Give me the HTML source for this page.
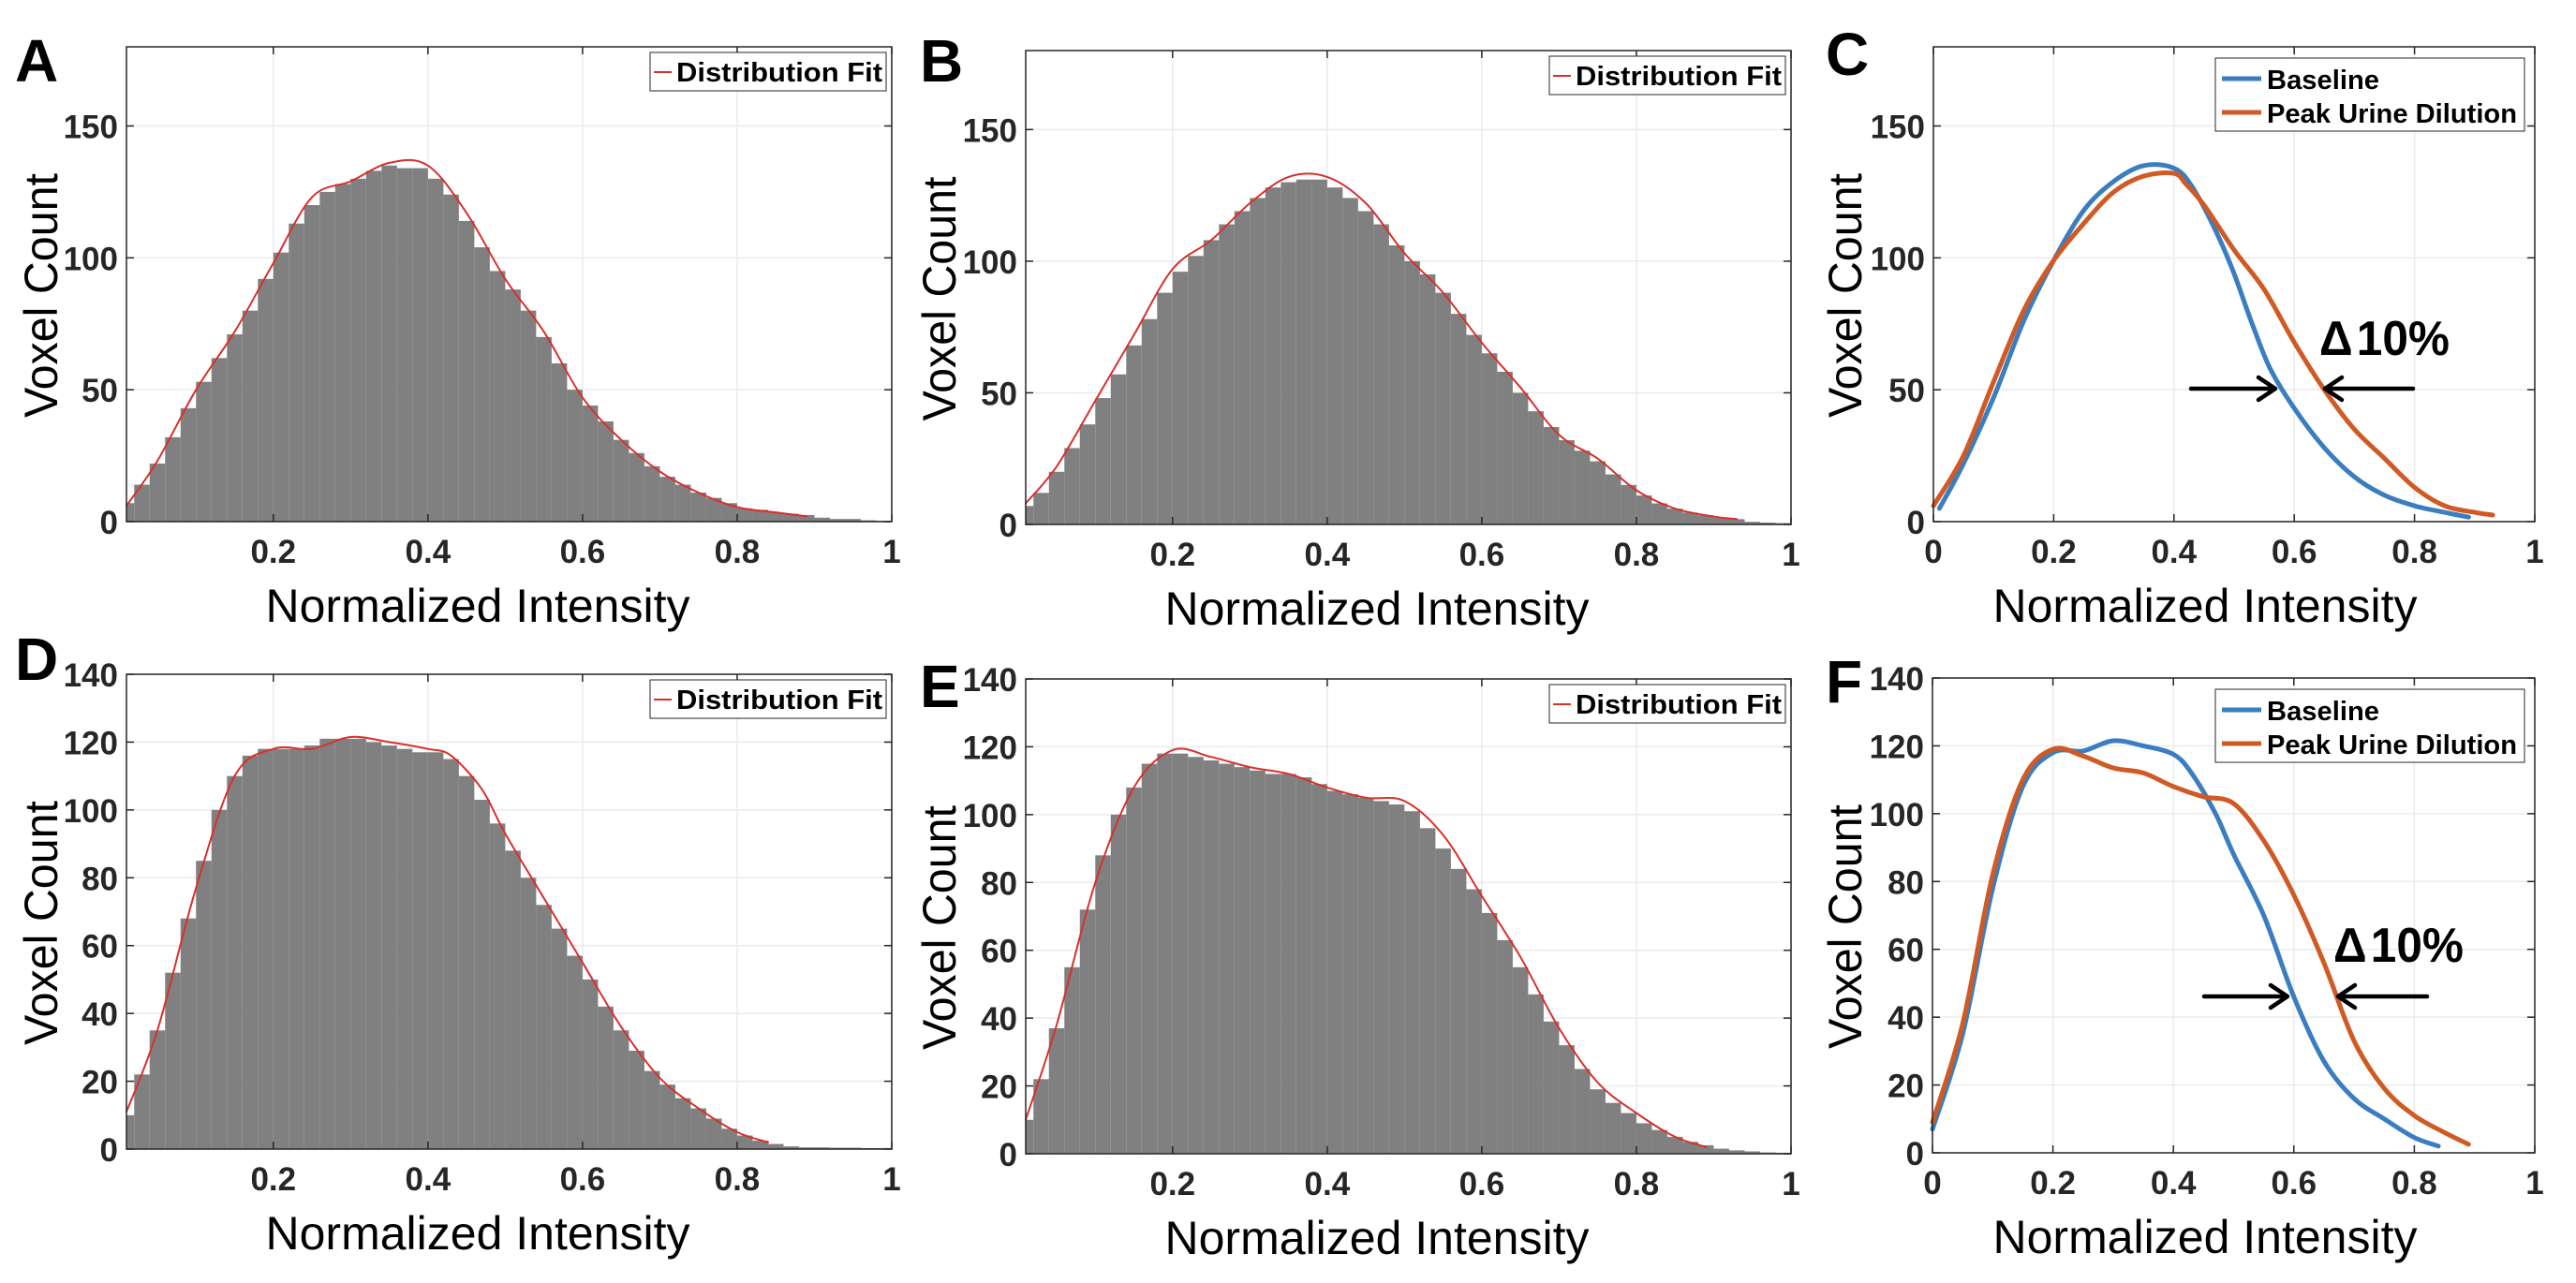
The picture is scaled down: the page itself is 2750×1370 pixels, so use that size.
<!DOCTYPE html>
<html><head><meta charset="utf-8"><title>Voxel intensity histograms</title>
<style>
html,body{margin:0;padding:0;background:#fff;}
svg{display:block;}
text{font-family:"Liberation Sans",Arial,sans-serif;}
</style></head>
<body>
<svg id="fig" xmlns="http://www.w3.org/2000/svg" width="2750" height="1370" viewBox="0 0 2750 1370"></svg>
<script>
// ---------- DATA ----------
const histCenters = [0.01,0.03,0.05,0.07,0.09,0.11,0.13,0.15,0.17,0.19,0.21,0.23,0.25,0.27,0.29,0.31,0.33,0.35,0.37,0.39,0.41,0.43,0.45,0.47,0.49,0.51,0.53,0.55,0.57,0.59,0.61,0.63,0.65,0.67,0.69,0.71,0.73,0.75,0.77,0.79,0.81,0.83,0.85,0.87,0.89,0.91,0.93,0.95,0.97,0.99];
const histA = [7,14,22,32,43,53,62,71,80,92,102,113,120,125,128,130,133,135,134,134,130,124,114,104,95,88,80,70,60,50,44,38,31,26,21,17,14,11,9,7,5,4.5,3.5,3,2.5,1.5,1,1,0.5,0.3];
const histB = [7,12,20,29,38,48,57,68,78,88,96,102,108,114,119,124,128,130,131,131,128,124,119,114,106,100,95,88,80,72,65,58,50,43,37,32,28,24,19,15,11,8,6,4.5,3.5,2.5,2,1,0.7,0.5];
const histD = [10,22,35,52,68,85,100,110,116,118,118,118,119,121,121,121,120,119,118,117,117,115,110,103,96,88,80,72,65,57,50,42,35,29,23,19,15,12,9,6,4,2.5,1.5,0.8,0.5,0.5,0.4,0.4,0.3,0.3];
const histE = [10,22,37,55,72,88,100,108,115,118,118,117,116,115,114,113,112,112,111,109,107,106,105,104,103,101,96,90,84,78,71,63,55,47,39,32,25,19,15,12,9,7,5,3.5,2.5,1.5,1,0.7,0.4,0.3];

const fitAx = [0.01,0.05,0.1,0.15,0.2,0.25,0.3,0.35,0.4,0.45,0.5,0.55,0.6,0.65,0.7,0.75,0.8,0.85,0.89];
const fitAy = [6,23,50,72,98,123,129,136,135,117,92,72,47,31,19,11,5.5,3.5,2];
const fitBx = [0.01,0.05,0.1,0.15,0.2,0.25,0.3,0.35,0.4,0.45,0.5,0.55,0.6,0.65,0.7,0.75,0.8,0.85,0.9,0.93];
const fitBy = [8,22,47,72,97,108,122,132,132,122,103,88,69,52,34,25,13,6,3,2];
const fitDx = [0.01,0.05,0.1,0.15,0.2,0.25,0.3,0.35,0.4,0.43,0.47,0.5,0.55,0.6,0.65,0.7,0.75,0.8,0.84];
const fitDy = [11,35,77,110,118,118,121.5,120,118,116,106,93,74,55,36,21,12,5,2];
const fitEx = [0.01,0.05,0.1,0.15,0.2,0.25,0.3,0.35,0.4,0.45,0.5,0.55,0.6,0.65,0.7,0.75,0.8,0.85,0.89];
const fitEy = [10,38,80,108,119,117,114,112,108,105,104,94,76,58,37,21,12,5,2];

const cBaseX = [0.01,0.05,0.1,0.15,0.2,0.25,0.3,0.35,0.4,0.43,0.47,0.5,0.53,0.56,0.6,0.65,0.7,0.75,0.8,0.85,0.89];
const cBaseY = [5,22,47,76,99,118,129,135,134,127,110,94,75,58,43,28,17,10,6,3.5,1.7];
const cPeakX = [0.0,0.05,0.1,0.15,0.2,0.25,0.3,0.35,0.4,0.42,0.45,0.5,0.55,0.6,0.65,0.7,0.75,0.8,0.85,0.9,0.93];
const cPeakY = [6,25,53,80,99,113,125,131,132,128,120,103,88,68,50,35,24,13,6,3.5,2.5];
const fBaseX = [0.0,0.05,0.1,0.15,0.2,0.25,0.3,0.35,0.4,0.43,0.47,0.5,0.55,0.6,0.65,0.7,0.75,0.8,0.84];
const fBaseY = [7,35,78,108,118,118.5,121.5,120,117.5,112,100,88,70,46,27,16,10,4.5,2];
const fPeakX = [0.0,0.05,0.1,0.15,0.2,0.25,0.3,0.35,0.4,0.45,0.5,0.55,0.6,0.65,0.7,0.75,0.8,0.85,0.89];
const fPeakY = [9,38,82,110,119,117,113.5,112,108,105,103,92,76,56,33,19,11,6,2.5];

const topYTicks = [0,50,100,150];
const botYTicks = [0,20,40,60,80,100,120,140];
const histXTicks = [0.2,0.4,0.6,0.8,1];
const lineXTicks = [0,0.2,0.4,0.6,0.8,1];
const xTickLabels = {0:"0",0.2:"0.2",0.4:"0.4",0.6:"0.6",0.8:"0.8",1:"1"};

// ---------- DRAWING ----------
const NS = "http://www.w3.org/2000/svg";
const svg = document.getElementById("fig");
function el(tag, attrs, parent){
  const e = document.createElementNS(NS, tag);
  for (const k in attrs) e.setAttribute(k, attrs[k]);
  (parent||svg).appendChild(e);
  return e;
}
function smoothPath(pts){
  let d = "M"+pts[0][0].toFixed(1)+","+pts[0][1].toFixed(1);
  for (let i=0;i<pts.length-1;i++){
    const p0=pts[Math.max(0,i-1)], p1=pts[i], p2=pts[i+1], p3=pts[Math.min(pts.length-1,i+2)];
    const c1x=p1[0]+(p2[0]-p0[0])/6, c1y=p1[1]+(p2[1]-p0[1])/6;
    const c2x=p2[0]-(p3[0]-p1[0])/6, c2y=p2[1]-(p3[1]-p1[1])/6;
    d+=" C"+c1x.toFixed(1)+","+c1y.toFixed(1)+" "+c2x.toFixed(1)+","+c2y.toFixed(1)+" "+p2[0].toFixed(1)+","+p2[1].toFixed(1);
  }
  return d;
}

function panel(cfg){
  const g = el("g", {});
  
  
  const L=cfg.left,R=cfg.right,T=cfg.top,B=cfg.bottom;
  const xs = v => L + (v-cfg.xmin)/(1-cfg.xmin)*(R-L);
  const ys = v => B - v/cfg.ymax*(B-T);
  // grid
  cfg.xticks.forEach(t=>{
    const gl = el("line",{x1:xs(t),x2:xs(t),y1:T,y2:B,stroke:"#ebebeb","stroke-width":1.5},g);
    
    
  });
  cfg.yticks.forEach(t=>{
    const gl = el("line",{x1:L,x2:R,y1:ys(t),y2:ys(t),stroke:"#ebebeb","stroke-width":1.5},g);
    
    
  });
  // histogram
  if (cfg.hist){
    const bw = 0.02;
    cfg.hist.forEach((v,i)=>{
      const c = histCenters[i];
      const x0 = Math.max(xs(c-bw/2), L), x1 = xs(c+bw/2);
      const r = el("rect",{x:x0,y:ys(v),width:Math.max(0,x1-x0),height:B-ys(v),fill:"#808080"},g);
      
      
    });
  }
  // series
  cfg.series.forEach(s=>{
    const pts = s.x.map((v,i)=>[xs(v), ys(s.y[i])]);
    const p = el("path",{d:smoothPath(pts),fill:"none",stroke:s.color,"stroke-width":s.w,"stroke-linejoin":"round","stroke-linecap":"round"},g);
    
    
  });
  // axes box
  const box = el("rect",{x:L,y:T,width:R-L,height:B-T,fill:"none",stroke:"#262626","stroke-width":1.5},g);
  
  
  // ticks & labels
  cfg.xticks.forEach(t=>{
    el("line",{x1:xs(t),x2:xs(t),y1:B,y2:B-8,stroke:"#262626","stroke-width":1.5},g);
    el("line",{x1:xs(t),x2:xs(t),y1:T,y2:T+8,stroke:"#262626","stroke-width":1.5},g);
    const tx = el("text",{x:xs(t),y:B+44,"text-anchor":"middle","font-size":35,"font-weight":"bold",fill:"#262626"},g);
    tx.textContent = xTickLabels[t];
    
    
  });
  cfg.yticks.forEach(t=>{
    el("line",{x1:L,x2:L+8,y1:ys(t),y2:ys(t),stroke:"#262626","stroke-width":1.5},g);
    el("line",{x1:R,x2:R-8,y1:ys(t),y2:ys(t),stroke:"#262626","stroke-width":1.5},g);
    const ty = el("text",{x:L-9,y:ys(t)+13,"text-anchor":"end","font-size":35,"font-weight":"bold",fill:"#262626"},g);
    ty.textContent = String(t);
    
    
  });
  // axis titles
  const xt = el("text",{x:cfg.xtitleX,y:B+107,"text-anchor":"middle","font-size":50,textLength:453,lengthAdjust:"spacingAndGlyphs",fill:"#000"},g);
  xt.textContent = "Normalized Intensity";
  
  
  const yt = el("text",{x:0,y:0,"text-anchor":"middle","font-size":50,textLength:261,lengthAdjust:"spacingAndGlyphs",fill:"#000",transform:"translate("+cfg.ytitleX+","+((T+B)/2+12)+") rotate(-90)"},g);
  yt.textContent = "Voxel Count";
  
  
  // panel letter
  const lt = el("text",{x:cfg.letterX,y:cfg.letterY,"font-size":64,"font-weight":"bold",fill:"#000"},g);
  lt.textContent = cfg.id;
  
  
  // legend
  const lg = el("g",{},g);
  
  
  if (cfg.hist){
    const lx=R-258, ly=T+6;
    el("rect",{x:lx,y:ly,width:252,height:41,fill:"#fff",stroke:"#262626","stroke-width":1},lg);
    el("line",{x1:lx+4,x2:lx+23,y1:ly+21,y2:ly+21,stroke:"#d7302b","stroke-width":2},lg);
    const t = el("text",{x:lx+28,y:ly+31,"font-size":29,"font-weight":"bold",textLength:220,lengthAdjust:"spacingAndGlyphs",fill:"#000"},lg);
    t.textContent = "Distribution Fit";
    
    
  } else {
    const lx=R-341, ly=T+cfg.legendDy;
    el("rect",{x:lx,y:ly,width:330,height:78,fill:"#fff",stroke:"#262626","stroke-width":1},lg);
    el("line",{x1:lx+7,x2:lx+49,y1:ly+22,y2:ly+22,stroke:"#3a7dc0","stroke-width":5},lg);
    el("line",{x1:lx+7,x2:lx+49,y1:ly+58,y2:ly+58,stroke:"#d05a24","stroke-width":5},lg);
    const t1 = el("text",{x:lx+55,y:ly+33,"font-size":29,"font-weight":"bold",textLength:120,lengthAdjust:"spacingAndGlyphs",fill:"#000"},lg);
    t1.textContent = "Baseline";
    
    
    const t2 = el("text",{x:lx+55,y:ly+69,"font-size":29,"font-weight":"bold",textLength:267,lengthAdjust:"spacingAndGlyphs",fill:"#000"},lg);
    t2.textContent = "Peak Urine Dilution";
    
    
    // annotation
    const a = cfg.anno;
    const ag = el("g",{},g);
    
    
    const tt = el("text",{x:a.tx,y:a.ty,"font-size":52,"font-weight":"bold",textLength:139,lengthAdjust:"spacingAndGlyphs",fill:"#000"},ag);
    tt.textContent = "\u0394\u200a10%";
    
    
    el("path",{d:"M"+a.l1+","+a.ay+" H"+a.l2+" M"+(a.l2-18)+","+(a.ay-12)+" L"+a.l2+","+a.ay+" L"+(a.l2-18)+","+(a.ay+12),fill:"none",stroke:"#000","stroke-width":4.5,"stroke-linecap":"round","stroke-linejoin":"round"},ag);
    el("path",{d:"M"+a.r1+","+a.ay+" H"+a.r2+" M"+(a.r2+18)+","+(a.ay-12)+" L"+a.r2+","+a.ay+" L"+(a.r2+18)+","+(a.ay+12),fill:"none",stroke:"#000","stroke-width":4.5,"stroke-linecap":"round","stroke-linejoin":"round"},ag);
  }
}

const RED="#d7302b", BLUE="#3a7dc0", ORANGE="#d05a24";
panel({id:"A",left:135,right:952,top:50,bottom:557,xmin:0.01,ymax:180,xticks:histXTicks,yticks:topYTicks,hist:histA,
  series:[{x:fitAx,y:fitAy,color:RED,w:2,name:"distribution-fit-line"}],xtitleX:510,ytitleX:61,letterX:16,letterY:87});
panel({id:"B",left:1095,right:1912,top:54,bottom:560,xmin:0.01,ymax:180,xticks:histXTicks,yticks:topYTicks,hist:histB,
  series:[{x:fitBx,y:fitBy,color:RED,w:2,name:"distribution-fit-line"}],xtitleX:1470,ytitleX:1020,letterX:982,letterY:87});
panel({id:"C",left:2064,right:2706,top:50,bottom:557,xmin:0,ymax:180,xticks:lineXTicks,yticks:topYTicks,
  series:[{x:cBaseX,y:cBaseY,color:BLUE,w:5,name:"baseline-line"},{x:cPeakX,y:cPeakY,color:ORANGE,w:5,name:"peak-urine-dilution-line"}],
  legendDy:12,anno:{tx:2476,ty:379,ay:415,l1:2339,l2:2429,r1:2576,r2:2482},xtitleX:2354,ytitleX:1987,letterX:1949,letterY:80});
panel({id:"D",left:135,right:952,top:720,bottom:1227,xmin:0.01,ymax:140,xticks:histXTicks,yticks:botYTicks,hist:histD,
  series:[{x:fitDx,y:fitDy,color:RED,w:2,name:"distribution-fit-line"}],xtitleX:510,ytitleX:61,letterX:16,letterY:726});
panel({id:"E",left:1095,right:1912,top:725,bottom:1232,xmin:0.01,ymax:140,xticks:histXTicks,yticks:botYTicks,hist:histE,
  series:[{x:fitEx,y:fitEy,color:RED,w:2,name:"distribution-fit-line"}],xtitleX:1470,ytitleX:1020,letterX:982,letterY:755});
panel({id:"F",left:2063,right:2706,top:724,bottom:1231,xmin:0,ymax:140,xticks:lineXTicks,yticks:botYTicks,
  series:[{x:fBaseX,y:fBaseY,color:BLUE,w:5,name:"baseline-line"},{x:fPeakX,y:fPeakY,color:ORANGE,w:5,name:"peak-urine-dilution-line"}],
  legendDy:12,anno:{tx:2491,ty:1027,ay:1064,l1:2353,l2:2442,r1:2591,r2:2496},xtitleX:2354,ytitleX:1987,letterX:1949,letterY:750});
</script>
</body></html>
